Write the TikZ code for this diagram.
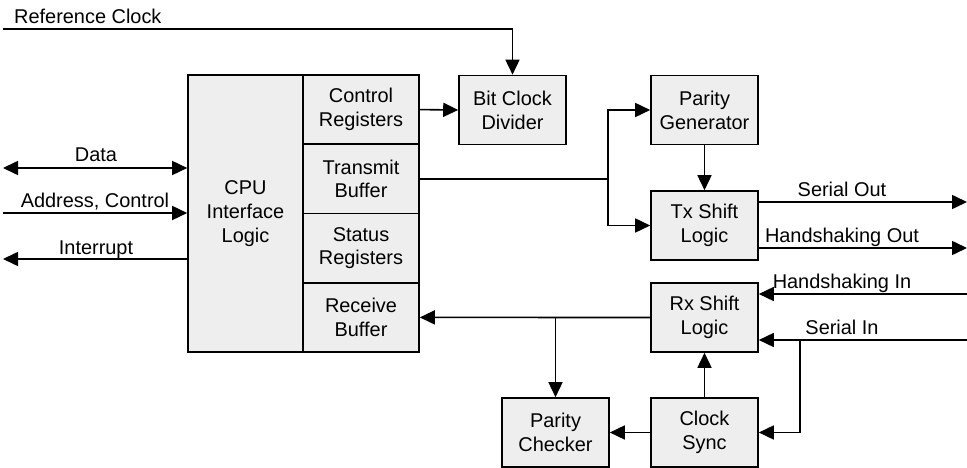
\documentclass[tikz,border=0pt]{standalone}
\usepackage{fontspec}
\setmainfont{Liberation Sans}
\usetikzlibrary{arrows.meta}
\definecolor{boxfill}{RGB}{238,238,238}
\begin{document}
\begin{tikzpicture}[x=1bp,y=-1bp,
  box/.style={draw, line width=1.6bp, fill=boxfill, rectangle, minimum width=107bp, minimum height=69bp, inner sep=0pt, align=center, font=\fontsize{20}{24}\selectfont},
  reg/.style={box, minimum width=116bp, minimum height=69.25bp},
  lbl/.style={font=\fontsize{20}{24}\selectfont, anchor=base, inner sep=0pt},
  tip/.tip={Triangle[length=15bp,width=14bp]},
  arr/.style={line width=1.6bp, -tip},
  ln/.style={line width=1.6bp}]
\useasboundingbox (0,0) rectangle (967,468);

% CPU block and registers
\node[box, minimum width=115bp, minimum height=276.9bp] (cpu) at (245.5,213.5) {CPU\\Interface\\Logic};
\node[reg] (ctrl) at (361,109.6) {Control\\Registers};
\node[reg] (txb) at (361,178.9) {Transmit\\Buffer};
\node[reg] (stat) at (361,248.1) {Status\\Registers};
\node[reg] (rcv) at (361,317.4) {Receive\\Buffer};

% other blocks
\node[box] (bcd) at (512.5,110) {Bit Clock\\Divider};
\node[box] (pgen) at (704.5,110) {Parity\\Generator};
\node[box] (txs) at (704.5,225.5) {Tx Shift\\Logic};
\node[box] (rxs) at (704.5,317.5) {Rx Shift\\Logic};
\node[box] (csync) at (704.5,432.5) {Clock\\Sync};
\node[box] (pchk) at (555.5,432.5) {Parity\\Checker};

% free ends
\coordinate (refl) at (3,29);
\coordinate (dataL) at (3,168);
\coordinate (addrL) at (3,213);
\coordinate (intL) at (3,259);
\coordinate (so) at (967,202);
\coordinate (ho) at (967,248);
\coordinate (hi) at (967,294);
\coordinate (si) at (967,340);
\coordinate (sj) at (800,340);
\coordinate (sp) at (608,178.9);
\coordinate (rj) at (555.5,317.4);

% connectors
\draw[arr] (refl) -| (bcd.north);
\draw[arr] (ctrl.east) -- (bcd.west);
\draw[line width=1.6bp, tip-tip] (dataL) -- (cpu.west |- dataL);
\draw[arr] (addrL) -- (cpu.west |- addrL);
\draw[arr] (cpu.west |- intL) -- (intL);
\draw[ln] (txb.east) -- (sp);
\draw[arr] (sp) |- (pgen.west);
\draw[arr] (sp) |- (txs.west);
\draw[arr] (pgen.south) -- (txs.north);
\draw[arr] (txs.east |- so) -- (so);
\draw[arr] (txs.east |- ho) -- (ho);
\draw[arr] (hi) -- (rxs.east |- hi);
\draw[arr] (si) -- (rxs.east |- si);
\draw[arr] (sj) |- (csync.east);
\draw[arr] (rxs.west) -- (rcv.east);
\draw[arr] (rj) -- (pchk.north);
\draw[arr] (csync.north) -- (rxs.south);
\draw[arr] (csync.west) -- (pchk.east);

% labels
\node[lbl, anchor=base west] (trefclk) at (14,24) {Reference Clock};
\node[lbl] (tdata) at (96,162) {Data};
\node[lbl] (taddr) at (95,208) {Address, Control};
\node[lbl] (tint) at (96,255) {Interrupt};
\node[lbl] (tso) at (842,197) {Serial Out};
\node[lbl] (tho) at (842,243) {Handshaking Out};
\node[lbl] (thi) at (842,289) {Handshaking In};
\node[lbl] (tsi) at (842,335) {Serial In};
\end{tikzpicture}
\end{document}
